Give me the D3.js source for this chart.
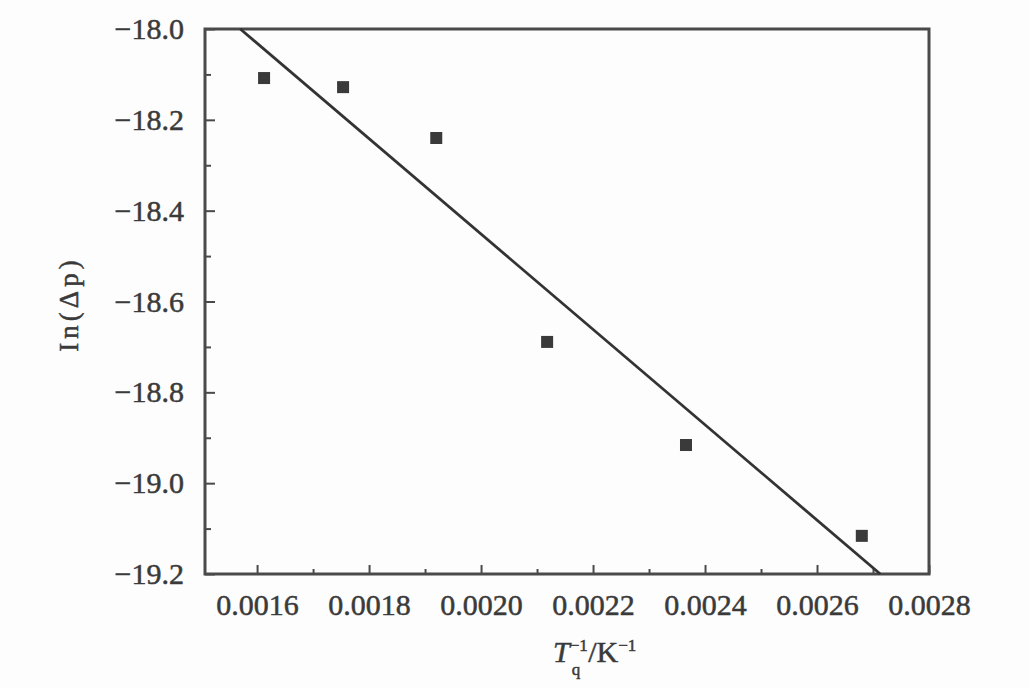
<!DOCTYPE html>
<html>
<head>
<meta charset="utf-8">
<script src="https://cdn.jsdelivr.net/npm/d3@7"></script>
<style>
  html, body { margin: 0; padding: 0; background: #fdfdfd; }
  svg { display: block; }
  text { font-family: "Liberation Serif", "Times New Roman", serif; fill: #3a3a3a; stroke: #3a3a3a; stroke-width: 0.5px; }
</style>
</head>
<body>
<svg id="chart" width="1029" height="688"></svg>
<script>
// Data
const xValues = [0.0016125, 0.0017536, 0.00192, 0.002118, 0.002366, 0.00268];
const yValues = [-18.108, -18.128, -18.240, -18.689, -18.916, -19.116];
// Linear fit endpoints
const fitX = [0.00157, 0.002713];
const fitY = [-18.0, -19.2];
// Tick values
const xTicks = [0.0016, 0.0018, 0.0020, 0.0022, 0.0024, 0.0026, 0.0028];
const xMinorTicks = [0.0017, 0.0019, 0.0021, 0.0023, 0.0025, 0.0027];
const yTicks = [-18.0, -18.2, -18.4, -18.6, -18.8, -19.0, -19.2];
const yMinorTicks = [-18.1, -18.3, -18.5, -18.7, -18.9, -19.1];

const svg = d3.select("#chart");
const L = 205, R = 929, T = 29, B = 574;
const axisColor = "#4a4a4a";

const x = d3.scaleLinear().domain([0.001507, 0.0028]).range([L, R]);
const y = d3.scaleLinear().domain([-19.2, -18.0]).range([B, T]);

const fmtX = d3.format(".4f");
const fmtY = v => d3.format(".1f")(v).replace("-", "\u2212");

// Axes (ticks inward)
const xAxis = d3.axisBottom(x).tickValues(xTicks).tickSize(-9).tickPadding(20).tickFormat(fmtX);
const xAxisMinor = d3.axisBottom(x).tickValues(xMinorTicks).tickSize(-5).tickFormat("");
const yAxis = d3.axisLeft(y).tickValues(yTicks).tickSize(-10).tickPadding(21).tickFormat(fmtY);
const yAxisMinor = d3.axisLeft(y).tickValues(yMinorTicks).tickSize(-6).tickFormat("");

function styleAxis(g) {
  g.select(".domain").remove();
  g.selectAll(".tick line").attr("stroke", axisColor).attr("stroke-width", 2);
  g.selectAll(".tick text").attr("fill", "#3a3a3a").style("font-size", "30px")
    .style("font-family", "'Liberation Serif', 'Times New Roman', serif");
}

svg.append("g").attr("transform", `translate(0,${B})`).call(xAxis).call(styleAxis);
svg.append("g").attr("transform", `translate(0,${B})`).call(xAxisMinor).call(styleAxis);
svg.append("g").attr("transform", `translate(${L},0)`).call(yAxis).call(styleAxis);
svg.append("g").attr("transform", `translate(${L},0)`).call(yAxisMinor).call(styleAxis);

// Frame
svg.append("rect")
  .attr("x", L).attr("y", T).attr("width", R - L).attr("height", B - T)
  .attr("fill", "none").attr("stroke", axisColor).attr("stroke-width", 3);

// Fit line
const line = d3.line().x(d => x(d[0])).y(d => y(d[1]));
svg.append("path")
  .datum(fitX.map((v, i) => [v, fitY[i]]))
  .attr("d", line)
  .attr("fill", "none").attr("stroke", "#333").attr("stroke-width", 2.8);

// Points
const s = 12;
svg.append("g").selectAll("rect")
  .data(xValues.map((v, i) => [v, yValues[i]]))
  .join("rect")
  .attr("x", d => x(d[0]) - s / 2).attr("y", d => y(d[1]) - s / 2)
  .attr("width", s).attr("height", s)
  .attr("fill", "#3a3a3a");

// Y label
svg.append("text")
  .attr("transform", "translate(78,304) rotate(-90)")
  .attr("text-anchor", "middle")
  .style("font-size", "27px")
  .style("letter-spacing", "4px")
  .text("In(Δp)");

// X label: T_q^{-1}/K^{-1}
const xl = svg.append("text").attr("x", 553).attr("y", 662).style("font-size", "30px");
xl.append("tspan").style("font-style", "italic").text("T");
xl.append("tspan").attr("dy", -11).style("font-size", "17px").text("\u22121");
xl.append("tspan").attr("dx", -16).attr("dy", 24).style("font-size", "17px").text("q");
xl.append("tspan").attr("dx", 8).attr("dy", -13).text("/K");
xl.append("tspan").attr("dy", -11).style("font-size", "17px").text("\u22121");
</script>
</body>
</html>
